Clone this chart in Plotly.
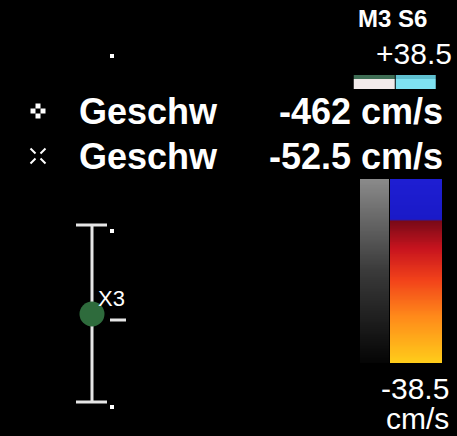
import numpy as np
import plotly.graph_objects as go

W, H = 457, 436

# ---- data ----
scale_max = 38.5
scale_min = -38.5
scale_unit = "cm/s"
mode_label = "M3 S6"
meas_labels = ["Geschw", "Geschw"]
meas_values = [-462, -52.5]
meas_units = ["cm/s", "cm/s"]
meas_value_text = ["-462 cm/s", "-52.5 cm/s"]
caliper_label = "X3"

# layout anchors (pixel space of the screen)
meas_rows_y = [111, 156]
caliper_x = 92
caliper_y = [225, 402]
caliper_cap_half = 16
gate_y = 314

fig = go.Figure()

# colour bar (velocity scale) as heatmap
n = 200
vel = np.linspace(scale_max, scale_min, n).reshape(-1, 1)
bar_top, bar_bot = 179, 363
dy = (bar_bot - bar_top) / n
color_scale = [
    [0.0, "#ffcc1a"],
    [0.25, "#ff8a1a"],
    [0.45, "#f2421a"],
    [0.62, "#c8141e"],
    [0.77, "#7a0a18"],
    [0.78, "#1a1ac8"],
    [1.0, "#1e1ed2"],
]
fig.add_trace(go.Heatmap(z=vel, x0=416, dx=52, y0=bar_top + dy / 2, dy=dy,
                         colorscale=color_scale, zmin=scale_min, zmax=scale_max,
                         showscale=False, hoverinfo="skip"))
gray_scale = [[0.0, "#050505"], [0.5, "#3a3a3a"], [1.0, "#8a8a8a"]]
fig.add_trace(go.Heatmap(z=vel, x0=374.5, dx=29, y0=bar_top + dy / 2, dy=dy,
                         colorscale=gray_scale, zmin=scale_min, zmax=scale_max,
                         showscale=False, hoverinfo="skip"))

# small baseline bar at top (white/green + cyan)
base_z = [[0, 1], [0, 1], [2, 3], [2, 3], [2, 3], [2, 3], [2, 3]]
fig.add_trace(go.Heatmap(z=base_z,
                         x=[374.5, 416], y=[76, 78, 80, 82, 84, 86, 88],
                         colorscale=[[0, "#3f6e55"], [0.16, "#3f6e55"], [0.17, "#5fc0d0"], [0.5, "#5fc0d0"],
                                     [0.51, "#f2eaea"], [0.83, "#f2eaea"], [0.84, "#7fe2f2"], [1, "#7fe2f2"]],
                         zmin=0, zmax=3, showscale=False, hoverinfo="skip", xgap=1))

# caliper line
fig.add_trace(go.Scatter(x=[caliper_x, caliper_x], y=caliper_y, mode="lines",
                         line=dict(color="#e6e6e6", width=3), hoverinfo="skip"))
for yy in caliper_y:
    fig.add_trace(go.Scatter(x=[caliper_x - caliper_cap_half, caliper_x + caliper_cap_half - 1], y=[yy, yy],
                             mode="lines", line=dict(color="#e6e6e6", width=3), hoverinfo="skip"))
# small dots
fig.add_trace(go.Scatter(x=[112, 112, 112], y=[56, caliper_y[0] + 6, caliper_y[1] + 5], mode="markers",
                         marker=dict(symbol="square", size=4, color="#ffffff"), hoverinfo="skip"))
# gate marker
fig.add_trace(go.Scatter(x=[caliper_x], y=[gate_y], mode="markers",
                         marker=dict(size=25, color="#2e6b3c", line=dict(width=0)), hoverinfo="skip"))
fig.add_trace(go.Scatter(x=[110, 126], y=[320, 320], mode="lines",
                         line=dict(color="#e6e6e6", width=3), hoverinfo="skip"))

# measurement symbols
c1 = (38, meas_rows_y[0])
fig.add_trace(go.Scatter(x=[c1[0] - 5, c1[0] + 5, c1[0], c1[0]], y=[c1[1], c1[1], c1[1] - 5, c1[1] + 5],
                         mode="markers", marker=dict(symbol="square", size=5, color="#ffffff"), hoverinfo="skip"))
c2 = (38, meas_rows_y[1])
fig.add_trace(go.Scatter(x=[c2[0] - 5, c2[0] + 5], y=[c2[1] - 5, c2[1] + 5],
                         mode="markers", marker=dict(symbol="line-nw", size=5, color="#ffffff", line=dict(width=2, color="#ffffff")), hoverinfo="skip"))
fig.add_trace(go.Scatter(x=[c2[0] - 5, c2[0] + 5], y=[c2[1] + 5, c2[1] - 5],
                         mode="markers", marker=dict(symbol="line-ne", size=5, color="#ffffff", line=dict(width=2, color="#ffffff")), hoverinfo="skip"))

font_b = "Liberation Sans, Arial, sans-serif"
ann = []
for i in range(2):
    ann.append(dict(x=77, y=meas_rows_y[i], text="<b>%s</b>" % meas_labels[i], xanchor="left", yanchor="middle",
                    font=dict(size=36, color="#ffffff", family=font_b)))
    ann.append(dict(x=445, y=meas_rows_y[i], text="<b>%s</b>" % meas_value_text[i], xanchor="right", yanchor="middle",
                    font=dict(size=36, color="#ffffff", family=font_b)))
ann.append(dict(x=356, y=18, text="<b>%s</b>" % mode_label, xanchor="left", yanchor="middle",
                font=dict(size=24, color="#ffffff", family=font_b)))
ann.append(dict(x=454, y=53, text="+%g" % scale_max, xanchor="right", yanchor="middle",
                font=dict(size=30, color="#ffffff", family=font_b)))
ann.append(dict(x=451, y=388, text="%g" % scale_min, xanchor="right", yanchor="middle",
                font=dict(size=30, color="#ffffff", family=font_b)))
ann.append(dict(x=451, y=418, text=scale_unit, xanchor="right", yanchor="middle",
                font=dict(size=30, color="#ffffff", family=font_b)))
ann.append(dict(x=96, y=298, text=caliper_label, xanchor="left", yanchor="middle",
                font=dict(size=22, color="#ffffff", family=font_b)))
for a in ann:
    a.update(xref="x", yref="y", showarrow=False)

fig.update_layout(
    width=W, height=H, margin=dict(l=0, r=0, t=0, b=0),
    paper_bgcolor="#000000", plot_bgcolor="#000000",
    showlegend=False, annotations=ann,
    xaxis=dict(range=[0, W], visible=False, fixedrange=True),
    yaxis=dict(range=[H, 0], visible=False, fixedrange=True),
)
fig.write_html("out.html", config={"displayModeBar": False},
               post_script="document.body.style.margin='0';document.body.style.background='#000';")
